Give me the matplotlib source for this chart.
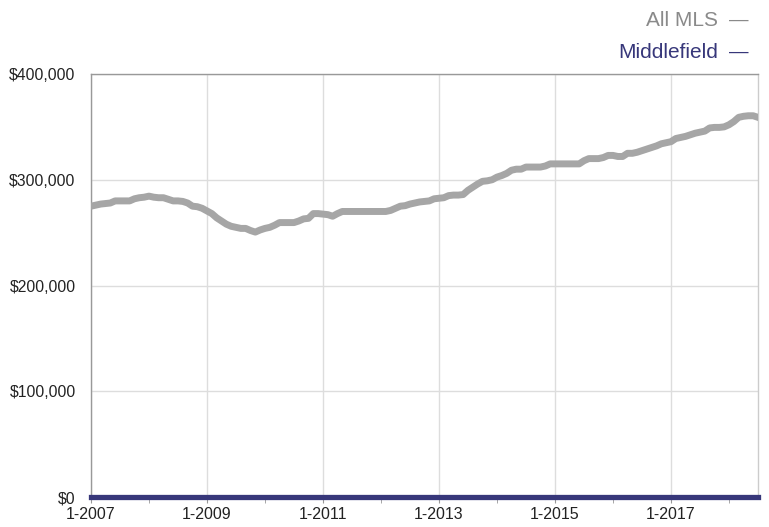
import matplotlib
matplotlib.use('Agg')
import matplotlib.pyplot as plt
from matplotlib.ticker import FuncFormatter, MultipleLocator

plt.rcParams['font.family'] = ['Liberation Sans', 'DejaVu Sans']

# monthly median prices, thousands, Jan 2007 .. Jul 2018
all_mls = [
    275, 276, 277, 277.5, 278, 280, 280, 280, 280, 282, 283, 283.5,          # 2007
    284.5, 283.5, 283, 283, 281.5, 280, 280, 279.5, 278, 275, 274.5, 273,    # 2008
    270.5, 268, 264, 261, 258, 256, 255, 254, 254, 252, 250.5, 252.5,        # 2009
    254, 255, 257, 259.5, 259.5, 259.5, 259.5, 261, 263, 263.5, 268, 268,    # 2010
    267.5, 267, 265.5, 268, 270, 270, 270, 270, 270, 270, 270, 270,          # 2011
    270, 270, 271, 273, 275, 275.5, 277, 278, 279, 279.5, 280, 282,          # 2012
    282.5, 283, 285, 285.5, 285.5, 286, 290, 293, 296, 298.5, 299, 300,      # 2013
    302.5, 304, 306, 309, 310, 310, 312, 312, 312, 312, 313, 315,            # 2014
    315, 315, 315, 315, 315, 315, 318, 320, 320, 320, 321, 323,              # 2015
    323, 322, 322, 325, 325, 326, 327.5, 329, 330.5, 332, 334, 335,          # 2016
    336, 339, 340, 341, 342.5, 344, 345, 346, 349, 349.5, 349.5, 350,        # 2017
    352, 355, 359, 360, 360.5, 360.5, 359,                                   # 2018
]
all_mls = [v * 1000 for v in all_mls]
middlefield = [0] * len(all_mls)
months = list(range(len(all_mls)))

tick_pos = [0, 24, 48, 72, 96, 120]
tick_labels = ['1-2007', '1-2009', '1-2011', '1-2013', '1-2015', '1-2017']

fig = plt.figure(figsize=(7.69, 5.27), dpi=100)
ax = fig.add_axes([0.1183, 0.0569, 0.8674, 0.8027])

ax.plot(months, all_mls, color='#a6a6a6', lw=5, solid_joinstyle='round', zorder=3)
ax.plot(months, middlefield, color='#37377a', lw=3.8, zorder=4, clip_on=False)

ax.set_xlim(0, len(months) - 1)
ax.set_ylim(0, 400000)
ax.set_xticks(tick_pos)
ax.set_xticklabels(tick_labels)
ax.set_xticks([12, 36, 60, 84, 108, 132], minor=True)
ax.yaxis.set_major_locator(MultipleLocator(100000))
ax.yaxis.set_major_formatter(FuncFormatter(lambda v, p: '${:,.0f}'.format(v)))

ax.grid(True, color='#dddddd', lw=1)
ax.set_axisbelow(True)
for s in ['left', 'top', 'right', 'bottom']:
    ax.spines[s].set_color('#999999')
    ax.spines[s].set_linewidth(1)
ax.spines['right'].set_color('#cccccc')
ax.tick_params(axis='x', which='both', direction='out', length=4, color='#999999',
               labelsize=11.5, labelcolor='#222222', pad=3)
ax.tick_params(axis='y', length=0, labelsize=11.3, labelcolor='#222222', pad=11)

fig.text(0.934, 0.962, 'All MLS', ha='right', va='center', fontsize=15, color='#8a8a8a')
fig.text(0.9727, 0.962, '\u2014', ha='right', va='center', fontsize=14, color='#8a8a8a')
fig.text(0.934, 0.901, 'Middlefield', ha='right', va='center', fontsize=15, color='#37377a')
fig.text(0.9727, 0.901, '\u2014', ha='right', va='center', fontsize=14, color='#37377a')

fig.savefig('out.png', dpi=100)
